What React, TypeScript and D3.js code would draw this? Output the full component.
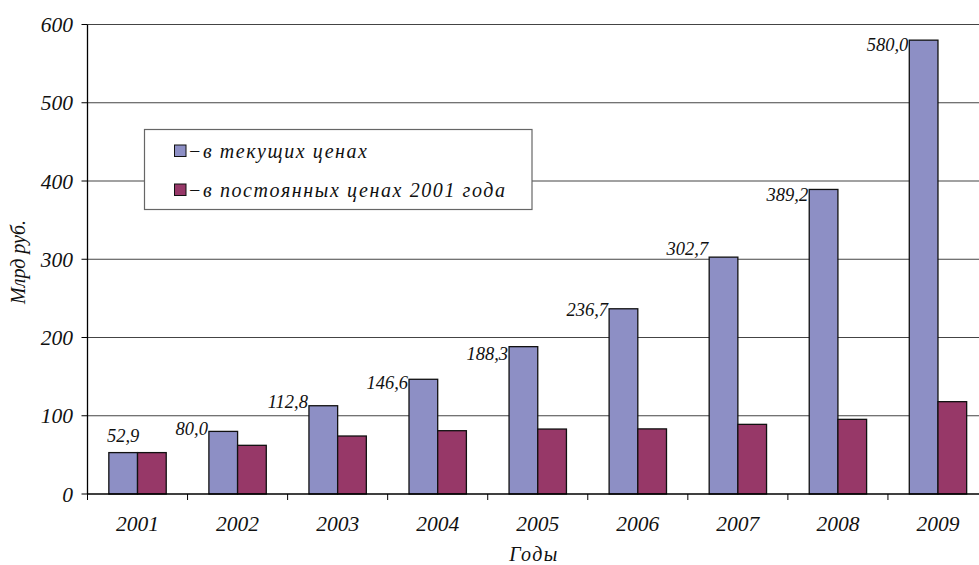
import React from "react";
import * as d3 from "d3";

// Объём (млрд руб.) по годам
const years = ["2001", "2002", "2003", "2004", "2005", "2006", "2007", "2008", "2009"];
const currentPrices = [52.9, 80.0, 112.8, 146.6, 188.3, 236.7, 302.7, 389.2, 580.0];
const constantPrices = [52.9, 62.2, 74.1, 80.9, 83.0, 83.2, 89.0, 95.4, 118.0];
const yTicks = [0, 100, 200, 300, 400, 500, 600];
const seriesNames = ["−в текущих ценах", "−в постоянных ценах 2001 года"];

// vertical nudge of each value label relative to its bar top
const labelDy = [-11, 3.5, 2, 10, 13, 7, -2, 12, 11];

const W = 979;
const H = 565;
const left = 87.5;
const right = 988;
const top = 24.5;
const bottom = 494;
const colors = ["#8D8FC5", "#973868"];
const font = '"Liberation Serif", "Times New Roman", serif';

const fmt = (v: number) => v.toFixed(1).replace(".", ",");

export default function App() {
  const x0 = d3.scaleBand<string>().domain(years).range([left, right]).padding(0);
  const step = x0.step();
  const gap = step * 0.4265;
  const x1 = d3
    .scaleBand<number>()
    .domain([0, 1])
    .range([gap / 2, step - gap / 2])
    .padding(0);
  const y = d3.scaleLinear().domain([0, 600]).range([bottom, top]);

  const series = [currentPrices, constantPrices];
  const txt = { fontFamily: font, fontStyle: "italic" as const };

  return (
    <svg
      width={W}
      height={H}
      style={{ position: "fixed", left: 0, top: 0, background: "#fff", ...txt }}
    >
      <rect x={0} y={0} width={W} height={H} fill="#fff" />
      {/* grid */}
      {yTicks.slice(1).map((t) => (
        <line key={t} x1={left} x2={W} y1={y(t)} y2={y(t)} stroke="#444" strokeWidth={1.2} />
      ))}
      {/* bars */}
      {series.map((vals, si) =>
        vals.map((v, i) => (
          <rect
            key={`${si}-${i}`}
            x={(x0(years[i]) as number) + (x1(si) as number)}
            y={y(v)}
            width={x1.bandwidth()}
            height={bottom - y(v)}
            fill={colors[si]}
            stroke="#111"
            strokeWidth={1.3}
          />
        ))
      )}
      {/* value labels */}
      {currentPrices.map((v, i) => {
        const bx = (x0(years[i]) as number) + (x1(0) as number);
        const centered = i === 0;
        return (
          <text
            key={`l${i}`}
            x={centered ? bx + x1.bandwidth() / 2 : bx - 1}
            y={y(v) + labelDy[i]}
            textAnchor={centered ? "middle" : "end"}
            fontSize={18.5}
            fill="#111"
            style={txt}
          >
            {fmt(v)}
          </text>
        );
      })}
      {/* axes */}
      <line x1={left} x2={left} y1={top} y2={bottom} stroke="#000" strokeWidth={1.3} />
      <line x1={left} x2={W} y1={bottom} y2={bottom} stroke="#000" strokeWidth={1.3} />
      {yTicks.map((t) => (
        <g key={`yt${t}`}>
          <line x1={left - 6} x2={left} y1={y(t)} y2={y(t)} stroke="#000" />
          <text x={73} y={y(t)} dy="0.35em" textAnchor="end" fontSize={21.5} fill="#111" style={txt}>
            {t}
          </text>
        </g>
      ))}
      {years.map((yr) => (
        <g key={`xt${yr}`}>
          <line x1={x0(yr) as number} x2={x0(yr) as number} y1={bottom} y2={bottom + 6} stroke="#000" />
          <text
            x={(x0(yr) as number) + step / 2}
            y={531}
            textAnchor="middle"
            fontSize={21.5}
            fill="#111"
            style={txt}
          >
            {yr}
          </text>
        </g>
      ))}
      {/* axis titles */}
      <text
        transform={`translate(25,${262}) rotate(-90)`}
        textAnchor="middle"
        fontSize={20}
        fill="#111"
        style={txt}
      >
        Млрд руб.
      </text>
      <text x={534} y={561} textAnchor="middle" fontSize={20} letterSpacing={1.5} fill="#111" style={txt}>
        Годы
      </text>
      {/* legend */}
      <rect x={144.5} y={129.5} width={387.5} height={80} fill="#fff" stroke="#666" strokeWidth={1.2} />
      {seriesNames.map((name, i) => {
        const cy = i === 0 ? 151 : 190;
        return (
          <g key={name}>
            <rect x={174.5} y={cy - 6} width={11.5} height={11.5} fill={colors[i]} stroke="#111" />
            <text
              x={188}
              y={cy}
              dy="0.35em"
              fontSize={20}
              fill="#111"
              textLength={i === 0 ? 179 : 317}
              lengthAdjust="spacing"
              style={txt}
            >
              {name}
            </text>
          </g>
        );
      })}
    </svg>
  );
}
